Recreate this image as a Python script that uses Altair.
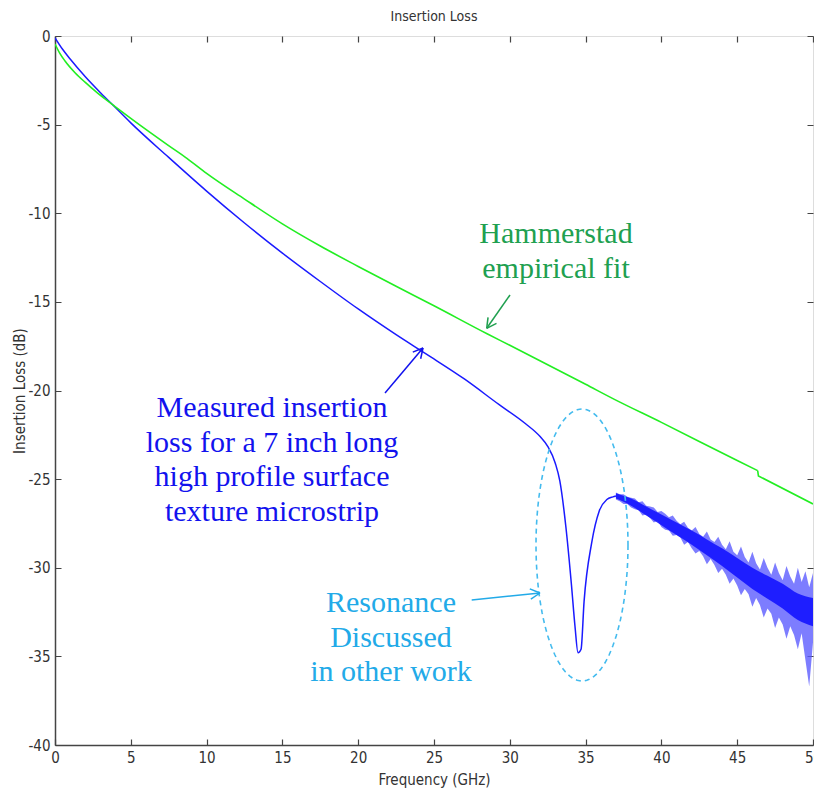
import math
import altair as alt
import pandas as pd

# ---------------- data ----------------
# smooth part of the measured insertion loss
meas_freq = [0, 0.5, 1, 2, 3, 4, 5, 7.5, 10, 12.5, 15, 17.5, 20, 22.5, 24.5, 27, 29.3,
             31, 32, 32.5, 33, 33.3, 33.7, 34.06, 34.3, 34.5, 34.7, 34.9, 35.4, 35.9,
             36.4, 36.8, 37.0]
meas_loss = [-0.1, -0.75, -1.3, -2.3, -3.2, -4.05, -4.9, -6.85, -8.75, -10.55, -12.25,
             -13.85, -15.4, -16.85, -17.95, -19.35, -20.8,
             -21.85, -22.6, -23.15, -24.1, -25.1, -27.7, -30.9, -33.3, -34.8, -34.6, -31.9,
             -28.6, -26.8, -26.15, -26.0, -25.95]

# noisy tail of the measured insertion loss: upper / lower excursions of the trace
noise_freq = [37.0, 37.25, 37.5, 37.75, 38.0, 38.25, 38.5, 38.75, 39.0, 39.25, 39.5, 39.75,
              40.0, 40.25, 40.5, 40.75, 41.0, 41.25, 41.5, 41.75, 42.0, 42.25, 42.5, 42.75,
              43.0, 43.25, 43.5, 43.75, 44.0, 44.25, 44.5, 44.75, 45.0, 45.25, 45.5, 45.75,
              46.0, 46.25, 46.5, 46.75, 47.0, 47.25, 47.5, 47.75, 48.0, 48.25, 48.5, 48.75,
              49.0, 49.25, 49.5, 49.75, 50.0]
noise_hi = [-25.75, -25.85, -25.85, -26.00, -26.05, -26.10, -26.30, -26.25, -26.50, -26.55,
            -26.60, -26.85, -26.80, -26.95, -27.15, -27.05, -27.35, -27.55, -27.40, -27.75,
            -27.90, -27.70, -28.10, -28.25, -27.95, -28.40, -28.55, -28.25, -28.70, -28.95,
            -28.50, -29.10, -29.30, -28.80, -29.40, -29.70, -29.10, -29.75, -30.10, -29.45,
            -30.00, -30.40, -29.70, -30.30, -30.70, -29.90, -30.50, -30.90, -30.00, -30.80,
            -30.20, -31.10, -30.30]
noise_lo = [-26.15, -26.25, -26.40, -26.40, -26.60, -26.70, -26.75, -27.05, -27.00, -27.20,
            -27.45, -27.35, -27.70, -27.85, -27.90, -28.20, -28.15, -28.30, -28.70, -28.55,
            -28.90, -29.20, -29.05, -29.35, -29.80, -29.50, -29.85, -30.30, -30.05, -30.40,
            -30.90, -30.60, -31.00, -31.55, -31.20, -31.50, -32.20, -31.70, -32.10, -32.80,
            -32.30, -32.60, -33.40, -32.80, -33.20, -34.00, -33.30, -33.80, -34.60, -33.70,
            -35.20, -36.70, -34.20]

# dense core of the noisy trace
core_freq = [37, 38, 39, 40, 41, 42, 43, 44, 45, 46, 47, 48, 49, 50]
core_hi = [-25.8, -26.1, -26.55, -27.0, -27.45, -27.9, -28.4, -28.9, -29.45, -30.0,
           -30.45, -30.9, -31.45, -31.7]
core_lo = [-26.1, -26.5, -27.05, -27.6, -28.15, -28.7, -29.3, -29.9, -30.55, -31.2,
           -31.75, -32.3, -32.95, -33.3]

# Hammerstad empirical fit: smooth part up to the small step, then the part after it
fit_freq = [0, 0.3, 0.66, 1.32, 2, 2.64, 3.3, 3.96, 5, 6.2, 7.47, 8.7, 10, 12.5, 15, 17.5,
            20, 22.5, 25, 28.5, 30, 35, 36.9, 40, 45, 46.35]
fit_loss = [-0.45, -0.95, -1.41, -2.07, -2.62, -3.1, -3.55, -3.98, -4.65, -5.4, -6.17,
            -6.9, -7.75, -9.2, -10.6, -11.85, -13.0, -14.12, -15.22, -16.8, -17.45,
            -19.65, -20.5, -21.8, -23.95, -24.52]
fit2_freq = [46.35, 46.4, 50]
fit2_loss = [-24.52, -24.82, -26.4]

x_ticks = list(range(0, 51, 5))
y_ticks = list(range(-40, 1, 5))

# ---------------- layout helpers ----------------
X0, Y0, W, H = 55, 36, 758, 709
XMAX, YMIN = 50, -40


def fx(px):
    return (px - X0) / W * XMAX


def fy(py):
    return (py - Y0) / H * YMIN


AXFONT = "DejaVu Sans Condensed"
SERIF = "Liberation Serif"

xs = alt.Scale(domain=[0, XMAX], nice=False, zero=False)
ys = alt.Scale(domain=[YMIN, 0], nice=False, zero=False)

xax = alt.Axis(values=x_ticks, title="Frequency (GHz)", grid=True,
               gridDash=[6, H - 12, 6, 3000], gridColor="#444", gridWidth=1.2,
               gridOpacity=1, ticks=False, domainColor="#444", domainWidth=1.5,
               labelFont=AXFONT, labelFontSize=15, labelColor="#333", labelPadding=5,
               labelFlush=False, labelOverlap=False, labelBound=False,
               labelExpr="replace(datum.label, '\u2212', '-')",
               titleFont=AXFONT, titleFontSize=15, titleColor="#333",
               titleFontWeight="normal", titleX=W / 2, titleY=27,
               titleBaseline="top", format="d")
yax = alt.Axis(values=y_ticks, title="Insertion Loss (dB)", grid=True,
               gridDash=[6, W - 12, 6, 3000], gridColor="#444", gridWidth=1.2,
               gridOpacity=1, ticks=False, domainColor="#444", domainWidth=1.5,
               labelFont=AXFONT, labelFontSize=15, labelColor="#333", labelPadding=5,
               labelFlush=False, labelOverlap=False,
               labelExpr="replace(datum.label, '\u2212', '-')",
               titleFont=AXFONT, titleFontSize=15, titleColor="#333",
               titleFontWeight="normal", titleX=-28, titleY=H / 2,
               titleBaseline="bottom", titleAngle=270, format="d")


def X(field):
    return alt.X(field, scale=xs, axis=xax)


def Y(field):
    return alt.Y(field, scale=ys, axis=yax)


meas_df = pd.DataFrame({"f": meas_freq, "v": meas_loss})
noise_df = pd.DataFrame({"f": noise_freq, "hi": noise_hi, "lo": noise_lo})
core_df = pd.DataFrame({"f": core_freq, "hi": core_hi, "lo": core_lo})
fit_df = pd.DataFrame({"f": fit_freq, "v": fit_loss})
fit2_df = pd.DataFrame({"f": fit2_freq, "v": fit2_loss})

noise = alt.Chart(noise_df).mark_area(color="#5c5cff", opacity=0.8, clip=True).encode(
    x=X("f:Q"), y=Y("hi:Q"), y2="lo:Q")
core = alt.Chart(core_df).mark_area(color="#1414ff", opacity=0.9, clip=True,
                                     interpolate="monotone").encode(
    x=X("f:Q"), y=Y("hi:Q"), y2="lo:Q")
meas = alt.Chart(meas_df).mark_line(color="#1a1aff", strokeWidth=1.5, clip=True,
                                     interpolate="monotone").encode(
    x=X("f:Q"), y=Y("v:Q"))
fit = alt.Chart(fit_df).mark_line(color="#22ee22", strokeWidth=1.6, clip=True,
                                   interpolate="monotone").encode(
    x=X("f:Q"), y=Y("v:Q"))
fit2 = alt.Chart(fit2_df).mark_line(color="#22ee22", strokeWidth=1.6, clip=True).encode(
    x=X("f:Q"), y=Y("v:Q"))

# dashed ellipse around resonance (pixel centre/radii converted to data units)
ecx, ecy, erx, ery = 582, 545, 46, 136
ell_rows = []
for i in range(0, 121):
    t = 2 * math.pi * i / 120
    ell_rows.append({"i": i, "f": fx(ecx + erx * math.cos(t)),
                     "v": fy(ecy + ery * math.sin(t))})
ell = alt.Chart(pd.DataFrame(ell_rows)).mark_line(
    color="#44bbee", strokeWidth=1.6, strokeDash=[5, 4]).encode(
    x=X("f:Q"), y=Y("v:Q"), order="i:Q")


def arrow(tail_pt, tip, color, L=11, ang=28):
    dx, dy = tail_pt[0] - tip[0], tail_pt[1] - tip[1]
    a = math.atan2(dy, dx)
    segs = [(tail_pt, tip)]
    for s in (-1, 1):
        b = a + s * math.radians(ang)
        segs.append((tip, (tip[0] + L * math.cos(b), tip[1] + L * math.sin(b))))
    return [dict(x=fx(p[0]), y=fy(p[1]), x2=fx(q[0]), y2=fy(q[1]), c=color)
            for p, q in segs]


GREEN_T = "#20a050"
BLUE_T = "#1212ee"
LBLUE_T = "#22aae8"

arrow_rows = (arrow((510, 295), (486.7, 328.3), GREEN_T)
              + arrow((385, 393), (423, 348), BLUE_T)
              + arrow((471.7, 600), (540, 593), LBLUE_T))
arrows = alt.Chart(pd.DataFrame(arrow_rows)).mark_rule(strokeWidth=1.5).encode(
    x=X("x:Q"), y=Y("y:Q"), x2="x2:Q", y2="y2:Q",
    color=alt.Color("c:N", scale=None))

notes = pd.DataFrame([
    {"x": fx(556), "y": fy(243), "t": "Hammerstad\nempirical fit", "c": GREEN_T},
    {"x": fx(272), "y": fy(417),
     "t": "Measured insertion\nloss for a 7 inch long\nhigh profile surface\ntexture microstrip",
     "c": BLUE_T},
    {"x": fx(391), "y": fy(612), "t": "Resonance\nDiscussed\nin other work", "c": LBLUE_T},
])
texts = alt.Chart(notes).mark_text(
    font=SERIF, fontSize=30, lineHeight=34.5, lineBreak="\n",
    align="center", baseline="alphabetic").encode(
    x=X("x:Q"), y=Y("y:Q"), text="t:N",
    color=alt.Color("c:N", scale=None))

# chart title, placed above the plot frame
title = alt.Chart(pd.DataFrame({"t": ["Insertion Loss"]})).mark_text(
    font=AXFONT, fontSize=14, color="#333", align="center", baseline="middle").encode(
    x=alt.value(W / 2), y=alt.value(-19), text="t:N")

chart = alt.layer(noise, core, meas, fit, fit2, ell, arrows, texts, title).properties(
    width=W, height=H,
    padding={"left": X0, "top": Y0, "right": 1, "bottom": 791 - Y0 - H},
    autosize=alt.AutoSizeParams(type="none"),
).configure_view(stroke="#444", strokeWidth=1.5).configure(background="white")

chart.save("out.html", embed_options={"renderer": "svg", "actions": False})
